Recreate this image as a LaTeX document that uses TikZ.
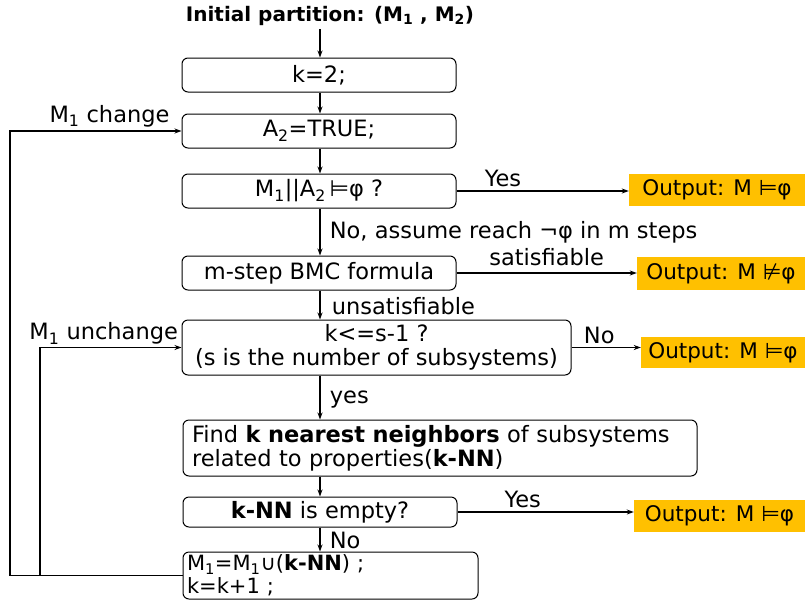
\documentclass[tikz,border=0pt]{standalone}
\usepackage{fontspec}
\setmainfont{DejaVu Sans}
\usetikzlibrary{arrows.meta}
\definecolor{outc}{HTML}{FFC000}
\begin{document}
\begin{tikzpicture}[x=1pt,y=-1pt,font=\fontsize{22.5}{24}\selectfont,
  arr/.style={-{Stealth[length=7pt,width=5pt]},line width=1.1pt},
  stepbox/.style={draw,line width=1pt,rounded corners=6pt,minimum width=274pt,minimum height=34pt,inner sep=2pt},
  outbox/.style={fill=outc,inner sep=0pt,minimum height=32pt,font=\fontsize{21.5}{24}\selectfont}]
\useasboundingbox (0,0) rectangle (808,603);
\node[font=\fontsize{20}{22}\selectfont\bfseries] (init) at (330,16) {Initial partition: (M\textsubscript{1} , M\textsubscript{2})};
\node[stepbox] (k2) at (319,75) {k=2;};
\node[stepbox] (atrue) at (319,131) {A\textsubscript{2}=TRUE;};
\node[stepbox] (check) at (319,191) {M\textsubscript{1}||A\textsubscript{2}\,⊨φ ?};
\node[stepbox] (bmc) at (319,273) {m-step BMC formula};
\node[stepbox,minimum width=389pt,minimum height=55pt,align=center] (kle) at (376.5,347.5) {k<=s-1 ?\\(s is the number of subsystems)};
\node[stepbox,minimum width=514pt,minimum height=56pt,align=left,text width=496pt] (knn) at (440,448) {Find \textbf{k nearest neighbors} of subsystems\\related to properties(\textbf{k-NN})};
\node[stepbox,minimum height=30pt] (empty) at (320,512) {\textbf{k-NN} is empty?};
\node[stepbox,minimum width=295pt,minimum height=47pt,align=left,text width=287pt,inner ysep=0pt,font=\fontsize{21}{23}\selectfont] (upd) at (330.5,575.5) {M\textsubscript{1}=M\textsubscript{1}∪(\textbf{k-NN}) ;\\k=k+1 ;};
\node[outbox,minimum width=176pt] (out1) at (717,190) {Output: M ⊨φ};
\node[outbox,minimum width=168pt,minimum height=33pt] (out2) at (721,273.5) {Output: M ⊭φ};
\node[outbox,minimum width=164pt,minimum height=31pt] (out3) at (723,352.5) {Output: M ⊨φ};
\node[outbox,minimum width=171pt] (out4) at (719.5,516) {Output: M ⊨φ};
\coordinate (lpo) at (10,0);
\coordinate (lpi) at (40,0);
\coordinate (mid) at (320,0);
\draw[arr] (mid |- init.south) -- (mid |- k2.north);
\draw[arr] (mid |- k2.south) -- (mid |- atrue.north);
\draw[arr] (mid |- atrue.south) -- (mid |- check.north);
\draw[arr] (mid |- check.south) -- node[right,xshift=6pt]{No, assume reach ¬φ in m steps} (mid |- bmc.north);
\draw[arr] (mid |- bmc.south) -- node[right,xshift=8pt,yshift=-1pt]{unsatisfiable} (mid |- kle.north);
\draw[arr] (mid |- kle.south) -- node[right,xshift=6pt,yshift=-2pt]{yes} (mid |- knn.north);
\draw[arr] (mid |- knn.south) -- (mid |- empty.north);
\draw[arr] (mid |- empty.south) -- node[right,xshift=6pt,yshift=-1pt]{No} (mid |- upd.north);
\draw[arr] (check.east) -- node[above,pos=0.27]{Yes} (check.east -| out1.west);
\draw[arr] (bmc.east) -- node[above,yshift=3pt]{satisfiable} (bmc.east -| out2.west);
\draw[arr] (kle.east) -- node[above,pos=0.4]{No} (kle.east -| out3.west);
\draw[arr] (empty.east) -- node[above,pos=0.37]{Yes} (empty.east -| out4.west);
\draw[arr] (upd.west) -| (lpo |- atrue.west) -- node[above,pos=0.58]{M\textsubscript{1} change} (atrue.west);
\draw[arr] (upd.west) -| (lpi |- kle.west) -- node[above,pos=0.45,yshift=-1pt]{M\textsubscript{1} unchange} (kle.west);
\end{tikzpicture}
\end{document}
